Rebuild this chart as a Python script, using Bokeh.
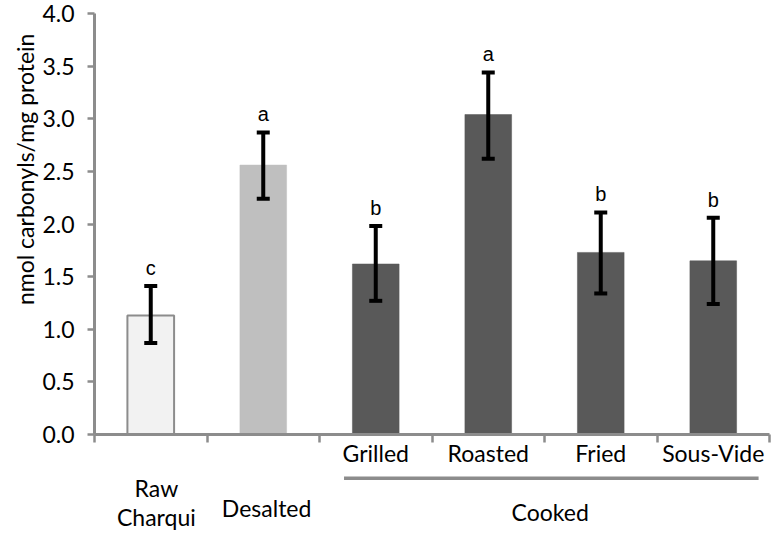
import math
from bokeh.plotting import figure
from bokeh.models import (Range1d, FixedTicker, PrintfTickFormatter, Whisker, TeeHead,
                          ColumnDataSource)
from bokeh.core.properties import value
from bokeh.embed import file_html
from bokeh.resources import INLINE

# ---- data ----
categories = ["Raw\nCharqui", "Desalted", "Grilled", "Roasted", "Fried", "Sous-Vide"]
group_labels = ["Raw\nCharqui", "Desalted", "Cooked"]
cooked_methods = ["Grilled", "Roasted", "Fried", "Sous-Vide"]
means = [1.13, 2.56, 1.62, 3.04, 1.73, 1.65]
err_lower = [0.87, 2.24, 1.27, 2.62, 1.34, 1.24]
err_upper = [1.41, 2.87, 1.98, 3.44, 2.11, 2.06]
letters = ["c", "a", "b", "a", "b", "b"]
y_ticks = [0.0, 0.5, 1.0, 1.5, 2.0, 2.5, 3.0, 3.5, 4.0]
y_label = "nmol carbonyls/mg protein"

# ---- styles ----
fill_colors = ["#f2f2f2", "#bfbfbf", "#595959", "#595959", "#595959", "#595959"]
line_colors = ["#8c8c8c", "#bfbfbf", "#595959", "#595959", "#595959", "#595959"]
line_widths = [2, 0.5, 0.5, 0.5, 0.5, 0.5]
AXIS = "#8c8c8c"
FONT = value("Lato")
FS = "23px"

W, H = 771, 531
# pixel layout of the plotting area (axis origin / extents)
X0_PX, X6_PX, Y0_PX, Y4_PX = 94, 769, 434, 13
n = len(categories)
sx = (X6_PX - X0_PX) / n
sy = (Y0_PX - Y4_PX) / 4.0
x_range = Range1d(-X0_PX / sx, n + (W - X6_PX) / sx)
y_range = Range1d(-(H - Y0_PX) / sy, 4.0 + Y4_PX / sy)

xs = [i + 0.5 for i in range(n)]
src = ColumnDataSource(dict(x=xs, top=means, lower=err_lower, upper=err_upper,
                            fill=fill_colors, line=line_colors, lw=line_widths,
                            letter=letters))

p = figure(width=W, height=H, output_backend="svg", toolbar_location=None,
           x_range=x_range, y_range=y_range,
           min_border_left=0, min_border_right=0, min_border_top=0, min_border_bottom=0)
p.outline_line_color = None
p.xgrid.visible = False
p.ygrid.visible = False
p.background_fill_color = "white"
p.border_fill_color = "white"

p.vbar(x="x", top="top", width=0.415, fill_color="fill", line_color="line",
       line_width="lw", source=src)

w = Whisker(source=src, base="x", upper="upper", lower="lower", dimension="height",
            line_color="black", line_width=4, level="overlay",
            upper_head=TeeHead(size=13, line_width=4, line_color="black"),
            lower_head=TeeHead(size=13, line_width=4, line_color="black"))
p.add_layout(w)

p.text(x="x", y="upper", text="letter", source=src, text_align="center",
       text_baseline="alphabetic", y_offset=-18, text_font=value("Liberation Sans"),
       text_font_size="20px", text_color="black")

# y axis
ya = p.yaxis[0]
ya.fixed_location = 0
ya.bounds = (0, 4)
ya.ticker = FixedTicker(ticks=y_ticks)
ya.formatter = PrintfTickFormatter(format="%.1f")
ya.axis_line_color = AXIS
ya.axis_line_width = 3
ya.major_tick_line_color = AXIS
ya.major_tick_line_width = 2.5
ya.major_tick_out = 7
ya.major_tick_in = 0
ya.minor_tick_line_color = None
ya.major_label_standoff = 13
ya.major_label_text_font = "Lato"
ya.major_label_text_font_size = FS
ya.major_label_text_color = "black"

# x axis (category boundaries, drawn as minor ticks: no tick labels)
xa = p.xaxis[0]
xa.fixed_location = 0
xa.bounds = (0, n)
xa.ticker = FixedTicker(ticks=[], minor_ticks=list(range(n + 1)))
xa.axis_line_color = AXIS
xa.axis_line_width = 3
xa.major_tick_line_color = None
xa.minor_tick_line_color = AXIS
xa.minor_tick_line_width = 2.5
xa.minor_tick_out = 8
xa.minor_tick_in = 0

# y axis title
p.text(x=[-0.62], y=[2.52], text=[y_label], angle=math.pi / 2,
       text_align="center", text_baseline="middle",
       text_font=FONT, text_font_size=FS, text_color="black")

# cooked method labels
cm_x = [xs[categories.index(c)] for c in cooked_methods]
p.text(x=cm_x, y=[-0.18] * len(cm_x), text=cooked_methods, text_align="center",
       text_baseline="middle", text_font=FONT, text_font_size=FS, text_color="black")

# group line under cooked
first = categories.index(cooked_methods[0])
last = categories.index(cooked_methods[-1])
p.segment(x0=[first + 0.218], y0=[-0.415], x1=[last + 0.903], y1=[-0.415],
          line_color=AXIS, line_width=3.5)

# group labels
group_x = [xs[0] + 0.05, xs[1] + 0.03, (first + last + 1) / 2 + 0.05]
group_y = [-0.645, -0.70, -0.735]
p.text(x=group_x, y=group_y, text=group_labels, text_align="center",
       text_baseline="middle", text_font=FONT, text_font_size=FS,
       text_line_height=1.05, text_color="black")

open("out.html", "w").write(file_html(p, INLINE))
